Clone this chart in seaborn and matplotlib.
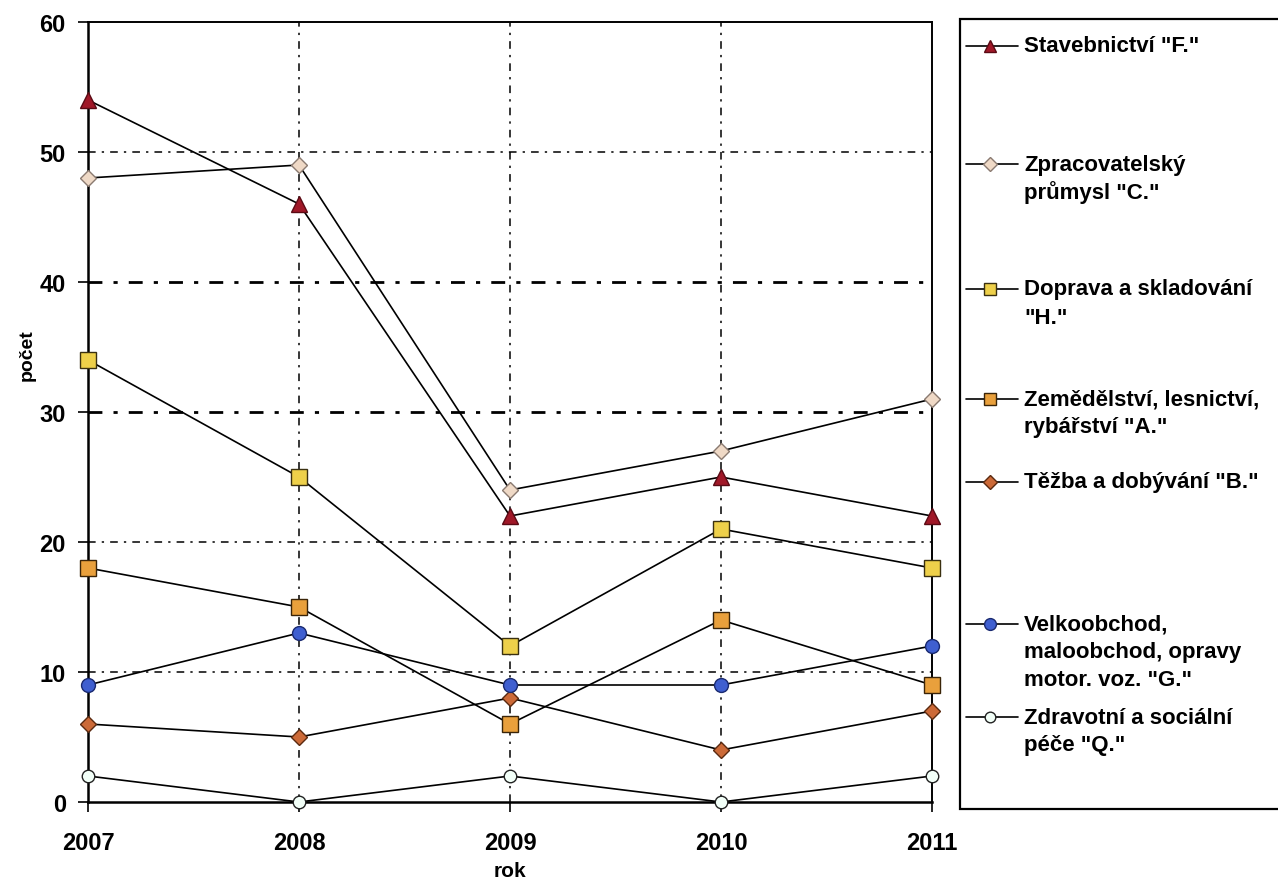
import matplotlib
matplotlib.use("Agg")
import matplotlib.pyplot as plt
from matplotlib.lines import Line2D
from matplotlib.patches import Rectangle
import pandas as pd
import seaborn as sns

years = [2007, 2008, 2009, 2010, 2011]

stavebnictvi_f = [54, 46, 22, 25, 22]
zpracovatelsky_c = [48, 49, 24, 27, 31]
doprava_h = [34, 25, 12, 21, 18]
zemedelstvi_a = [18, 15, 6, 14, 9]
tezba_b = [6, 5, 8, 4, 7]
velkoobchod_g = [9, 13, 9, 9, 12]
zdravotni_q = [2, 0, 2, 0, 2]

labels = [
    'Stavebnictví "F."',
    'Zpracovatelský\nprůmysl "C."',
    'Doprava a skladování\n"H."',
    'Zemědělství, lesnictví,\nrybářství "A."',
    'Těžba a dobývání "B."',
    'Velkoobchod,\nmaloobchod, opravy\nmotor. voz. "G."',
    'Zdravotní a sociální\npéče "Q."',
]
series = [stavebnictvi_f, zpracovatelsky_c, doprava_h, zemedelstvi_a,
          tezba_b, velkoobchod_g, zdravotni_q]

# marker, face colour, edge colour, size
styles = [
    ("^", "#A01828", "#5a0a14", 11),
    ("D", "#EFD9C6", "#8a7a70", 8),
    ("s", "#EED04A", "#3a3010", 11),
    ("s", "#E9A03C", "#3a2408", 11),
    ("D", "#CC6A38", "#5a2a10", 8),
    ("o", "#3F5FD0", "#1a2a70", 10),
    ("o", "#F2FFF8", "#222222", 9),
]

sns.set_theme(style="white")
plt.rcParams["font.family"] = ["Liberation Sans", "DejaVu Sans"]
plt.rcParams["font.weight"] = "bold"
plt.rcParams["text.color"] = "black"
plt.rcParams["axes.labelcolor"] = "black"

fig = plt.figure(figsize=(12.78, 8.87), dpi=100)
ax = fig.add_axes([88 / 1278, 1 - 803 / 887, (932 - 88) / 1278, (803 - 23) / 887])

for vals, lab, (m, fc, ec, ms) in zip(series, labels, styles):
    df = pd.DataFrame({"rok": years, "počet": vals})
    sns.lineplot(data=df, x="rok", y="počet", ax=ax, color="black", lw=1.2,
                 marker=m, markersize=ms, markerfacecolor=fc,
                 markeredgecolor=ec, markeredgewidth=1.0, clip_on=False,
                 zorder=3)

ax.set_xlim(2007, 2011)
ax.set_ylim(0, 60)
ax.set_xticks(years)
ax.set_yticks(range(0, 61, 10))
ax.tick_params(axis="both", labelsize=17, length=7, width=1.2,
               direction="out", colors="black", labelcolor="black", pad=9)
ax.tick_params(axis="x", pad=14)
for t in ax.get_xticklabels() + ax.get_yticklabels():
    t.set_fontweight("bold")

ax.grid(True, color="black", linestyle=(0, (5, 4, 1.5, 4)), linewidth=1.1)
ygl = ax.yaxis.get_gridlines()
ygl[3].set_linewidth(2.0)
ygl[4].set_linewidth(2.0)
ygl[0].set_visible(False)
ygl[-1].set_visible(False)
xgl = ax.xaxis.get_gridlines()
xgl[0].set_visible(False)
xgl[-1].set_visible(False)

for s in ["top", "right", "left", "bottom"]:
    ax.spines[s].set_color("black")
    ax.spines[s].set_linewidth(1.4)
ax.spines["left"].set_linewidth(1.8)
ax.spines["bottom"].set_linewidth(1.8)
ax.xaxis.set_ticks_position("bottom")
ax.yaxis.set_ticks_position("left")

ax.set_xlabel("rok", fontsize=15, fontweight="bold")
ax.set_ylabel("počet", fontsize=14, fontweight="bold")
ax.xaxis.set_label_coords(0.5, -0.076)
ax.yaxis.set_label_coords(-0.062, 0.574)

# legend box drawn by hand so handles line up with the first text line
W, H = 1278.0, 887.0
fig.add_artist(Rectangle((960 / W, 1 - 810 / H), 0.3, (810 - 20) / H,
                         transform=fig.transFigure, facecolor="white",
                         edgecolor="black", linewidth=1.6))
entry_y = [47, 165, 290, 400, 483, 625, 718]
for lab, (m, fc, ec, ms), yp in zip(labels, styles, entry_y):
    fy = 1 - yp / H
    fig.add_artist(Line2D([966 / W, 990 / W, 1018 / W], [fy, fy, fy],
                          transform=fig.transFigure, color="black", lw=1.2,
                          marker=m, markevery=[1], markersize=ms * 0.85,
                          markerfacecolor=fc, markeredgecolor=ec))
    for i, line in enumerate(lab.split("\n")):
        fig.text(1024 / W, 1 - (yp + i * 28) / H, line, fontsize=16,
                 fontweight="bold", va="center", ha="left")

fig.savefig("out.png", dpi=100)
